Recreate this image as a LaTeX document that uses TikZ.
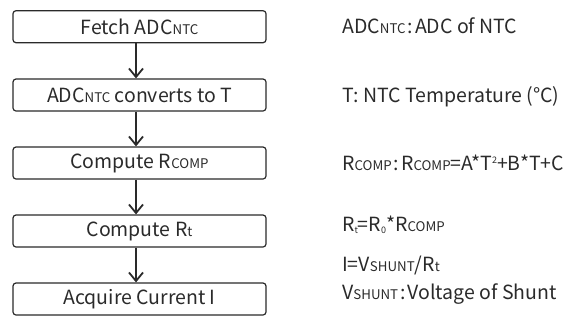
\documentclass[tikz,border=0pt]{standalone}
\usepackage{fontspec}
\setmainfont{Noto Sans CJK SC}
\usetikzlibrary{arrows.meta}
\definecolor{ink}{HTML}{2A2A2A}
\newcommand{\smc}[1]{{\fontsize{13.3bp}{14bp}\selectfont #1}}
\newcommand{\lsub}[1]{\raisebox{-2.5bp}{\fontsize{9bp}{9bp}\selectfont #1}}
\newcommand{\lsup}[1]{\raisebox{7bp}{\fontsize{9bp}{9bp}\selectfont #1}}
\newcommand{\wcolon}{\hspace{2bp}:\hspace{2bp}}
\begin{document}
\begin{tikzpicture}[x=1bp,y=-1bp,
  every node/.style={text=ink,font=\fontsize{19.5bp}{22bp}\selectfont},
  stepbox/.style={draw=ink,line width=1.2bp,rounded corners=3bp,minimum width=253bp,minimum height=32bp,inner sep=0pt},
  note/.style={anchor=base west,inner sep=0pt},
  flow/.style={draw=ink,line width=1.5bp,-{Straight Barb[length=8.5bp,width=14bp,line width=1.8bp]}}]
\useasboundingbox (0,0) rectangle (573,321);
\node[stepbox] (b1) at (139.5,26.7) {Fetch ADC\smc{NTC}};
\node[stepbox] (b2) at (139.5,95) {ADC\smc{NTC} converts to T};
\node[stepbox] (b3) at (139.5,163) {Compute R\smc{COMP}};
\node[stepbox] (b4) at (139.5,231) {Compute R\smc{t}};
\node[stepbox] (b5) at (139.5,299) {Acquire Current I};
\draw[flow] (b1.south -| 136,0) -- (b2.north -| 136,0);
\draw[flow] (b2.south -| 136,0) -- (b3.north -| 136,0);
\draw[flow] (b3.south -| 136,0) -- (b4.north -| 136,0);
\draw[flow] (b4.south -| 136,0) -- (b5.north -| 136,0);
\node[note] (n1) at (342,33) {ADC\smc{NTC}\wcolon ADC of NTC};
\node[note] (n2) at (342,102) {T: NTC Temperature (°C)};
\node[note] (n3) at (342,170) {R\smc{COMP}\wcolon R\smc{COMP}=A*T\lsup{2}+B*T+C};
\node[note] (n4) at (342,231) {R\lsub{t}=R\lsub{0}*R\smc{COMP}};
\node[note] (n5) at (342,271) {I=V\smc{SHUNT}/R\smc{t}};
\node[note] (n6) at (342,299) {V\smc{SHUNT}\wcolon Voltage of Shunt};
\end{tikzpicture}
\end{document}
